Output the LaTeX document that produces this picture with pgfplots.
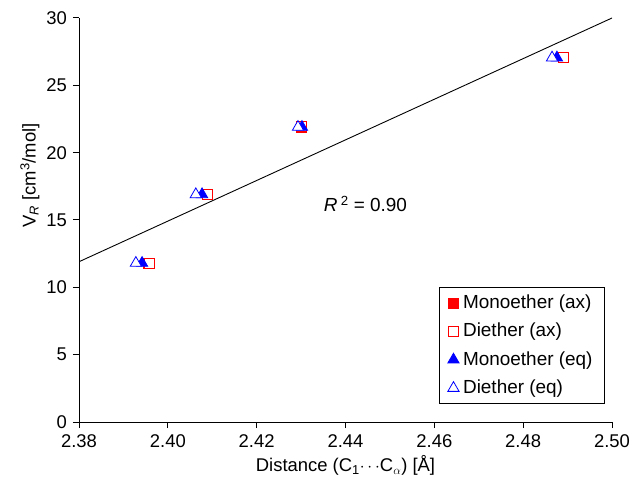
\documentclass[border=0pt]{standalone}
\usepackage{pgfplots}
\pgfplotsset{compat=1.18}
\usepackage{fontspec}
\setmainfont{Liberation Sans}
\begin{document}
\fontsize{18}{22}\selectfont
\begin{tikzpicture}
\useasboundingbox (-79bp,-61bp) rectangle (554bp,422bp);
\begin{axis}[
  name=ax, at={(0,0)}, anchor=south west,
  scale only axis, width=533bp, height=404bp,
  xmin=2.38, xmax=2.50, ymin=0, ymax=30,
  axis lines*=left,
  axis line style={line width=1bp},
  xtick={2.38,2.40,2.42,2.44,2.46,2.48,2.50},
  ytick={0,5,10,15,20,25,30},
  tick align=outside, major tick length=6bp,
  tick style={line width=1bp, black},
  /pgf/number format/assume math mode=true,
  x tick label style={/pgf/number format/fixed,/pgf/number format/fixed zerofill,/pgf/number format/precision=2},
  ticklabel style={font=\fontsize{18.5}{22}\selectfont},
  label style={font=\fontsize{18.5}{22}\selectfont},
  xlabel={Distance (C\textsubscript{1}$\cdots$C\textsubscript{$\alpha$}) [Å]},
  xlabel style={yshift=4bp},
  ylabel={V\textsubscript{\textit{R}} [cm\textsuperscript{3}/mol]},
  ylabel style={at={(axis description cs:-0.092,0.61)}, anchor=center},
  legend style={at={(0.9869,0.045)}, anchor=south east, draw=black, line width=1bp,
    font=\fontsize{19}{22}\selectfont, row sep=8bp, inner xsep=8bp, inner ysep=5bp,
    nodes={inner xsep=4bp}},
  legend cell align=left,
]
\addplot[red, only marks, mark=square*, mark size=5bp, mark options={draw=red, fill=red, line width=0.8bp}]
  coordinates {(2.3956,11.8) (2.4088,16.9) (2.4300,21.9) (2.4890,27.05)};
\addlegendentry{Monoether (ax)}
\addplot[red, only marks, mark=square*, mark size=5bp, mark options={draw=red, fill=white, line width=0.8bp}]
  coordinates {(2.3958,11.8) (2.4090,16.9) (2.4301,21.95) (2.4891,27.05)};
\addlegendentry{Diether (ax)}
\addplot[blue, only marks, mark=triangle*, mark size=6.5bp, mark options={draw=blue, fill=blue, line width=0.8bp}]
  coordinates {(2.3942,11.8) (2.4077,16.9) (2.4302,21.9) (2.4876,27.05)};
\addlegendentry{Monoether (eq)}
\addplot[blue, only marks, mark=triangle*, mark size=6.5bp, mark options={draw=blue, fill=white, line width=0.8bp}]
  coordinates {(2.3928,11.8) (2.4063,16.9) (2.4293,21.9) (2.4865,27.05)};
\addlegendentry{Diether (eq)}
\addplot[black, line width=0.9bp, forget plot] coordinates {(2.38,11.9) (2.50,30.0)};
\node[font=\fontsize{19}{22}\selectfont] at (axis cs:2.4445,16.2) {\textit{R}\,\textsuperscript{2} = 0.90};
\end{axis}
\end{tikzpicture}
\end{document}
